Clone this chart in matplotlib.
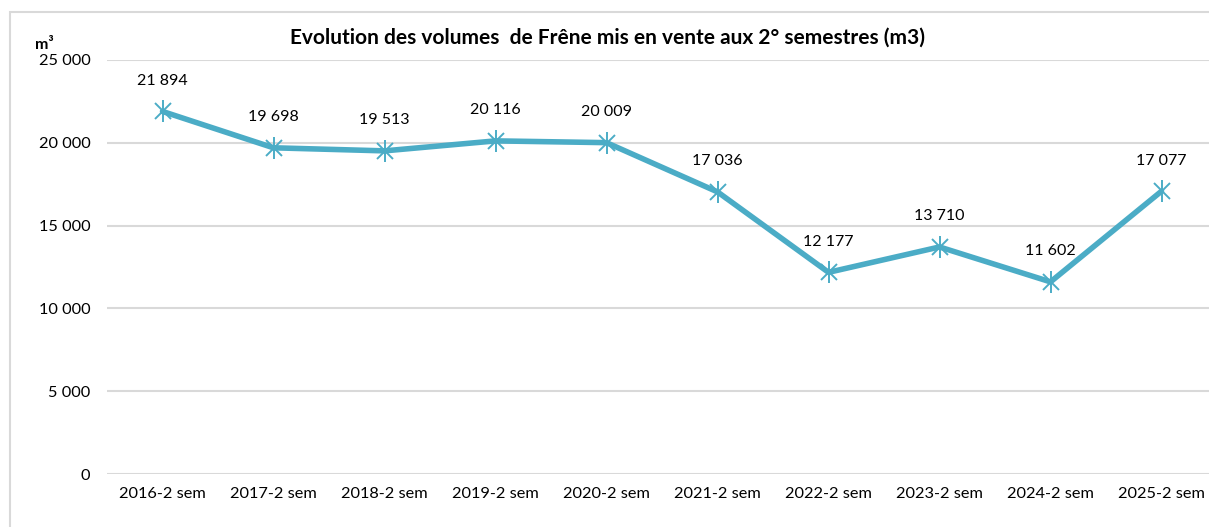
import matplotlib.pyplot as plt
from matplotlib.patches import Rectangle

# Data
periods = ['2016-2 sem', '2017-2 sem', '2018-2 sem', '2019-2 sem', '2020-2 sem',
           '2021-2 sem', '2022-2 sem', '2023-2 sem', '2024-2 sem', '2025-2 sem']
volumes = [21894, 19698, 19513, 20116, 20009, 17036, 12177, 13710, 11602, 17077]
y_ticks = [0, 5000, 10000, 15000, 20000, 25000]

color = '#4BACC6'
plt.rcParams['font.family'] = ['Lato', 'DejaVu Sans']

W, H = 1209, 527
fig = plt.figure(figsize=(W / 100, H / 100), dpi=100)

# light frame around the chart (cropped on the right in the original)
fig.patches.append(Rectangle((10 / W, -0.1), 1.2, 1 - 12 / H + 0.1,
                             transform=fig.transFigure, fill=False,
                             edgecolor='#d9d9d9', linewidth=1.5))

ax = fig.add_axes([107 / W, 1 - 474 / H, 1110 / W, (474 - 60) / H])
x = list(range(len(periods)))

ax.plot(x, volumes, color=color, linewidth=4, zorder=3, solid_capstyle='round')
ax.plot(x, volumes, linestyle='none', marker='x', markersize=12,
        markeredgewidth=1.4, color=color, zorder=4)
ax.plot(x, volumes, linestyle='none', marker='|', markersize=16,
        markeredgewidth=1.4, color=color, zorder=4)

for xi, v in zip(x, volumes):
    label = f'{v:,}'.replace(',', ' ')
    ax.annotate(label, (xi, v), xytext=(0, 17), textcoords='offset points',
                ha='center', va='bottom', fontsize=11.5, color='#000000')

ax.set_xlim(-0.5, len(periods) - 0.5)
ax.set_ylim(0, 25000)
ax.set_xticks(x)
ax.set_xticklabels(periods)
ax.set_yticks(y_ticks)
ax.set_yticklabels([f'{t:,}'.replace(',', ' ') for t in y_ticks])
ax.tick_params(axis='both', length=0, labelsize=11.8, colors='#000000')
ax.tick_params(axis='y', pad=12)
ax.tick_params(axis='x', pad=9)
ax.grid(axis='y', color='#d9d9d9', linewidth=1.5)
ax.set_axisbelow(True)
for s in ax.spines.values():
    s.set_visible(False)

fig.text(35 / W, 1 - 45 / H, 'm³', fontsize=11.5, fontweight='bold', va='center')
fig.text(608 / W, 1 - 38 / H, 'Evolution des volumes  de Frêne mis en vente aux 2° semestres (m3)',
         fontsize=15, fontweight='bold', ha='center', va='center')

fig.savefig('out.png', dpi=100)
